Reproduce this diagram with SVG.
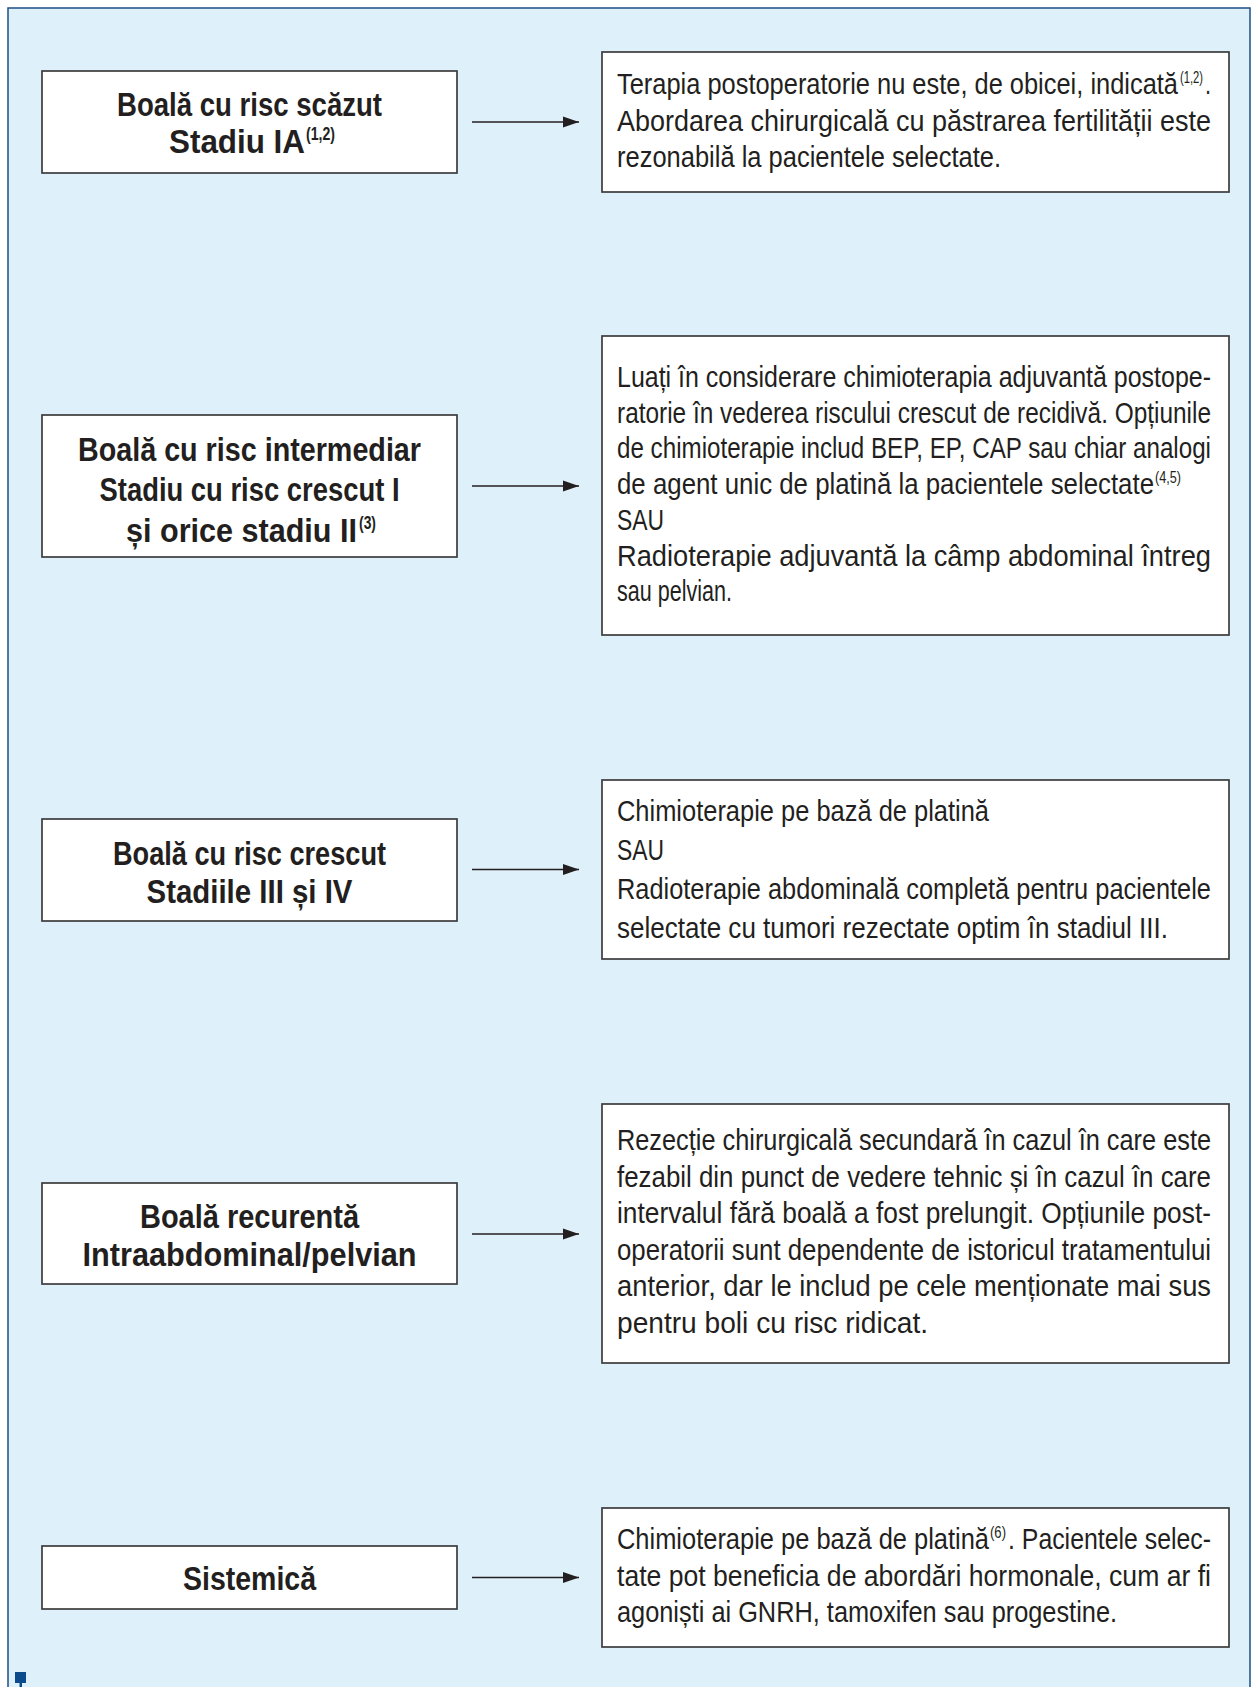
<svg xmlns="http://www.w3.org/2000/svg" width="1256" height="1687" viewBox="0 0 1256 1687">
<defs>
<style>
.frame{fill:#def1fa;stroke:#1d4f86;stroke-width:1.5}
.box{fill:#ffffff;stroke:#3c3c3c;stroke-width:1.7}
.b{font-family:"Liberation Sans",Arial,sans-serif;font-weight:bold;font-size:34px;fill:#231f20;text-anchor:middle}
.bl{font-family:"Liberation Sans",Arial,sans-serif;font-weight:bold;font-size:34px;fill:#231f20}
.bs{font-family:"Liberation Sans",Arial,sans-serif;font-weight:bold;font-size:19px;fill:#231f20}
.t{font-family:"Liberation Sans",Arial,sans-serif;font-size:29px;fill:#231f20}
.s{font-family:"Liberation Sans",Arial,sans-serif;font-size:16px;fill:#231f20}
.arr{stroke:#231f20;stroke-width:1.6;fill:none}
</style>
<marker id="ah" markerUnits="userSpaceOnUse" markerWidth="17" markerHeight="12" refX="16" refY="6" orient="auto">
<path d="M0,0.5 L16,6 L0,11.5 z" fill="#231f20"/>
</marker>
</defs>
<rect x="8" y="8" width="1242" height="1700" class="frame"/>
<rect x="15" y="1672" width="11" height="11" fill="#0b4a8b"/>
<rect x="19.5" y="1683" width="2.5" height="4" fill="#0b4a8b"/>

<g id="connectors">
<line x1="472" y1="122" x2="579" y2="122" class="arr" marker-end="url(#ah)"/>
<line x1="472" y1="486" x2="579" y2="486" class="arr" marker-end="url(#ah)"/>
<line x1="472" y1="869.5" x2="579" y2="869.5" class="arr" marker-end="url(#ah)"/>
<line x1="472" y1="1234" x2="579" y2="1234" class="arr" marker-end="url(#ah)"/>
<line x1="472" y1="1577.5" x2="579" y2="1577.5" class="arr" marker-end="url(#ah)"/>
</g>

<g id="n1">
<rect x="42" y="71" width="415" height="102" class="box"/>
<text transform="translate(249.5,116) scale(0.68,1)" class="b" textLength="389.7" lengthAdjust="spacingAndGlyphs">Boală cu risc scăzut</text>
<text transform="translate(169,153) scale(0.68,1)" class="bl" textLength="200" lengthAdjust="spacingAndGlyphs">Stadiu IA</text>
<text transform="translate(306,140) scale(0.8,1)" class="bs" textLength="36.25" lengthAdjust="spacingAndGlyphs">(1,2)</text>
</g>
<g id="r1">
<rect x="602" y="52" width="627" height="140" class="box"/>
<text transform="translate(617,94) scale(0.75,1)" class="t" textLength="748" lengthAdjust="spacingAndGlyphs">Terapia postoperatorie nu este, de obicei, indicată</text>
<text transform="translate(1180,83) scale(0.8,1)" class="s" textLength="28.75" lengthAdjust="spacingAndGlyphs">(1,2)</text>
<text transform="translate(1205,94) scale(0.75,1)" class="t">.</text>
<text transform="translate(617,130.5) scale(0.75,1)" class="t" textLength="792" lengthAdjust="spacingAndGlyphs">Abordarea chirurgicală cu păstrarea fertilității este</text>
<text transform="translate(617,167) scale(0.75,1)" class="t" textLength="512" lengthAdjust="spacingAndGlyphs">rezonabilă la pacientele selectate.</text>
</g>

<g id="n2">
<rect x="42" y="415" width="415" height="142" class="box"/>
<text transform="translate(249.5,460.5) scale(0.68,1)" class="b" textLength="504.4" lengthAdjust="spacingAndGlyphs">Boală cu risc intermediar</text>
<text transform="translate(249.5,501) scale(0.68,1)" class="b" textLength="441.2" lengthAdjust="spacingAndGlyphs">Stadiu cu risc crescut I</text>
<text transform="translate(126,541.5) scale(0.68,1)" class="bl" textLength="339.7" lengthAdjust="spacingAndGlyphs">și orice stadiu II</text>
<text transform="translate(359,528.5) scale(0.8,1)" class="bs" textLength="21.25" lengthAdjust="spacingAndGlyphs">(3)</text>
</g>
<g id="r2">
<rect x="602" y="336" width="627" height="299" class="box"/>
<text transform="translate(617,387) scale(0.75,1)" class="t" textLength="792" lengthAdjust="spacingAndGlyphs">Luați în considerare chimioterapia adjuvantă postope-</text>
<text transform="translate(617,422.7) scale(0.75,1)" class="t" textLength="792" lengthAdjust="spacingAndGlyphs">ratorie în vederea riscului crescut de recidivă. Opțiunile</text>
<text transform="translate(617,458.4) scale(0.75,1)" class="t" textLength="792" lengthAdjust="spacingAndGlyphs">de chimioterapie includ BEP, EP, CAP sau chiar analogi</text>
<text transform="translate(617,494.1) scale(0.75,1)" class="t" textLength="716" lengthAdjust="spacingAndGlyphs">de agent unic de platină la pacientele selectate</text>
<text transform="translate(1155,483) scale(0.8,1)" class="s" textLength="32.5" lengthAdjust="spacingAndGlyphs">(4,5)</text>
<text transform="translate(617,529.8) scale(0.75,1)" class="t" textLength="62.7" lengthAdjust="spacingAndGlyphs">SAU</text>
<text transform="translate(617,565.5) scale(0.75,1)" class="t" textLength="792" lengthAdjust="spacingAndGlyphs">Radioterapie adjuvantă la câmp abdominal întreg</text>
<text transform="translate(617,601.2) scale(0.75,1)" class="t" textLength="153.3" lengthAdjust="spacingAndGlyphs">sau pelvian.</text>
</g>

<g id="n3">
<rect x="42" y="819" width="415" height="102" class="box"/>
<text transform="translate(249.5,864.5) scale(0.68,1)" class="b" textLength="401.5" lengthAdjust="spacingAndGlyphs">Boală cu risc crescut</text>
<text transform="translate(249.5,902.5) scale(0.68,1)" class="b" textLength="302.9" lengthAdjust="spacingAndGlyphs">Stadiile III și IV</text>
</g>
<g id="r3">
<rect x="602" y="780" width="627" height="179" class="box"/>
<text transform="translate(617,820.5) scale(0.75,1)" class="t" textLength="496" lengthAdjust="spacingAndGlyphs">Chimioterapie pe bază de platină</text>
<text transform="translate(617,859.5) scale(0.75,1)" class="t" textLength="62.7" lengthAdjust="spacingAndGlyphs">SAU</text>
<text transform="translate(617,899) scale(0.75,1)" class="t" textLength="792" lengthAdjust="spacingAndGlyphs">Radioterapie abdominală completă pentru pacientele</text>
<text transform="translate(617,937.5) scale(0.75,1)" class="t" textLength="734.7" lengthAdjust="spacingAndGlyphs">selectate cu tumori rezectate optim în stadiul III.</text>
</g>

<g id="n4">
<rect x="42" y="1183" width="415" height="101" class="box"/>
<text transform="translate(249.5,1227.5) scale(0.68,1)" class="b" textLength="322.1" lengthAdjust="spacingAndGlyphs">Boală recurentă</text>
<text transform="translate(249.5,1266) scale(0.68,1)" class="b" textLength="491.2" lengthAdjust="spacingAndGlyphs">Intraabdominal/pelvian</text>
</g>
<g id="r4">
<rect x="602" y="1104" width="627" height="259" class="box"/>
<text transform="translate(617,1150) scale(0.75,1)" class="t" textLength="792" lengthAdjust="spacingAndGlyphs">Rezecție chirurgicală secundară în cazul în care este</text>
<text transform="translate(617,1186.5) scale(0.75,1)" class="t" textLength="792" lengthAdjust="spacingAndGlyphs">fezabil din punct de vedere tehnic și în cazul în care</text>
<text transform="translate(617,1223) scale(0.75,1)" class="t" textLength="792" lengthAdjust="spacingAndGlyphs">intervalul fără boală a fost prelungit. Opțiunile post-</text>
<text transform="translate(617,1259.5) scale(0.75,1)" class="t" textLength="792" lengthAdjust="spacingAndGlyphs">operatorii sunt dependente de istoricul tratamentului</text>
<text transform="translate(617,1296) scale(0.75,1)" class="t" textLength="792" lengthAdjust="spacingAndGlyphs">anterior, dar le includ pe cele menționate mai sus</text>
<text transform="translate(617,1332.5) scale(0.75,1)" class="t" textLength="414.7" lengthAdjust="spacingAndGlyphs">pentru boli cu risc ridicat.</text>
</g>

<g id="n5">
<rect x="42" y="1546" width="415" height="63" class="box"/>
<text transform="translate(249.5,1589.5) scale(0.68,1)" class="b" textLength="195.6" lengthAdjust="spacingAndGlyphs">Sistemică</text>
</g>
<g id="r5">
<rect x="602" y="1508" width="627" height="139" class="box"/>
<text transform="translate(617,1549) scale(0.75,1)" class="t" textLength="496" lengthAdjust="spacingAndGlyphs">Chimioterapie pe bază de platină</text>
<text transform="translate(990,1538) scale(0.8,1)" class="s" textLength="20" lengthAdjust="spacingAndGlyphs">(6)</text>
<text transform="translate(1008,1549) scale(0.75,1)" class="t" textLength="270.7" lengthAdjust="spacingAndGlyphs">. Pacientele selec-</text>
<text transform="translate(617,1585.5) scale(0.75,1)" class="t" textLength="792" lengthAdjust="spacingAndGlyphs">tate pot beneficia de abordări hormonale, cum ar fi</text>
<text transform="translate(617,1622) scale(0.75,1)" class="t" textLength="666.7" lengthAdjust="spacingAndGlyphs">agoniști ai GNRH, tamoxifen sau progestine.</text>
</g>
</svg>
